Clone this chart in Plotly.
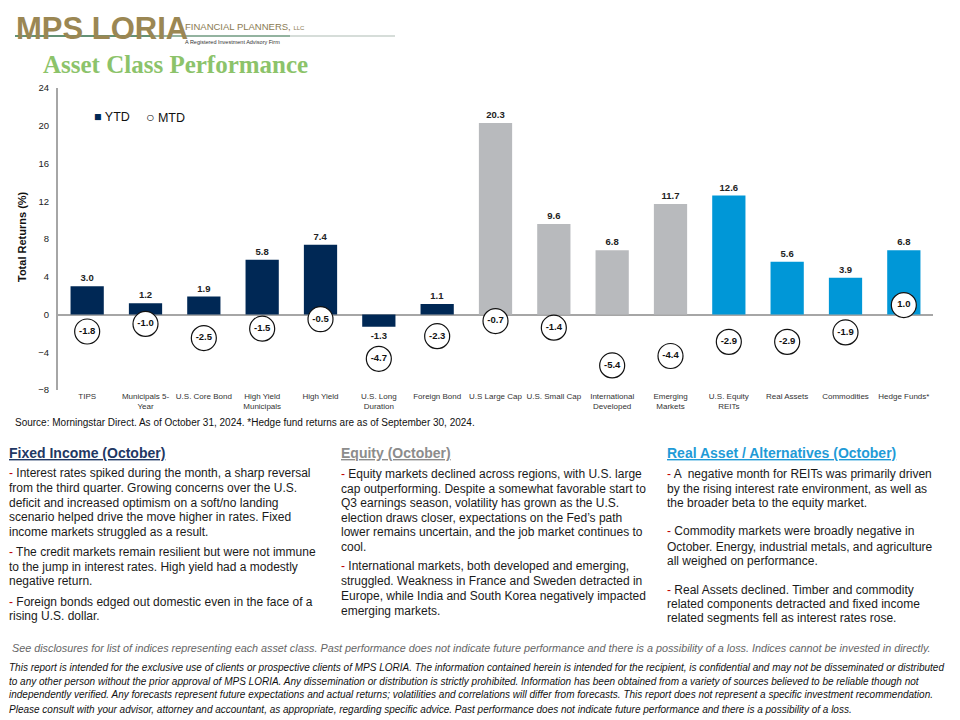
import plotly.graph_objects as go

# ---------------- data ----------------
categories = ["TIPS", "Municipals 5-<br>Year", "U.S. Core Bond", "High Yield<br>Municipals", "High Yield",
              "U.S. Long<br>Duration", "Foreign Bond", "U.S Large Cap", "U.S. Small Cap",
              "International<br>Developed", "Emerging<br>Markets", "U.S. Equity<br>REITs",
              "Real Assets", "Commodities", "Hedge Funds*"]
groups = ["Fixed Income"] * 7 + ["Equity"] * 4 + ["Real Assets / Alternatives"] * 4
ytd = [3.0, 1.2, 1.9, 5.8, 7.4, -1.3, 1.1, 20.3, 9.6, 6.8, 11.7, 12.6, 5.6, 3.9, 6.8]
mtd = [-1.8, -1.0, -2.5, -1.5, -0.5, -4.7, -2.3, -0.7, -1.4, -5.4, -4.4, -2.9, -2.9, -1.9, 1.0]
y_ticks = [-8, -4, 0, 4, 8, 12, 16, 20, 24]

# ---------------- style ----------------
group_colors = {"Fixed Income": "#002855", "Equity": "#b8babd", "Real Assets / Alternatives": "#0097d7"}
bar_colors = [group_colors[g] for g in groups]

OFF = 8  # page body margin
W, H = 960 - OFF, 720 - OFF
L, T = 58 - OFF, 88 - OFF
R = W - (933 - OFF)
B = H - (390 - OFF)
PW, PH = W - L - R, H - T - B


def X(px):
    return (px - OFF - L) / PW


def Y(py):
    return (H - B - (py - OFF)) / PH


fig = go.Figure()
fig.add_trace(go.Bar(
    x=categories, y=ytd, marker=dict(color=bar_colors, line=dict(width=0)),
    texttemplate="<b>%{y:.1f}</b>", textposition="outside", cliponaxis=False,
    textfont=dict(family="Arial", size=9.5, color="#222222"),
    showlegend=False, name="YTD"))
fig.add_trace(go.Scatter(
    x=categories, y=mtd, mode="markers+text", text=[f"<b>{v:.1f}</b>" for v in mtd],
    textposition="middle center", cliponaxis=False,
    textfont=dict(family="Arial", size=9.5, color="#111111"),
    marker=dict(symbol="circle", size=25, color="white", line=dict(color="#111111", width=1.2)),
    showlegend=False, name="MTD"))

ann = []


def add(xp, yp, text, font, xanchor="left", yanchor="middle", **kw):
    ann.append(dict(x=X(xp), y=Y(yp), xref="paper", yref="paper", text=text, showarrow=False,
                    xanchor=xanchor, yanchor=yanchor, font=font, **kw))


# logo
add(14, 28, "<b>MPS LORIA</b>", dict(family="Arial", size=31, color="#9b8753"))
add(183, 27, "FINANCIAL PLANNERS, <span style='font-size:6px'>LLC</span>",
    dict(family="Arial", size=9.5, color="#8a7a52"))
add(183, 42, "A Registered Investment Advisory Firm", dict(family="Arial", size=5.5, color="#333333"))
add(41, 65, "<b>Asset Class Performance</b>", dict(family="Liberation Serif, Times New Roman, serif", size=25, color="#8cc36a"))
# legend
add(92, 117, "<span style='color:#002855'>\u25A0</span> YTD", dict(family="Arial", size=12.5, color="#111111"))
add(144, 117, "<span style='font-size:14px'>\u25CB</span> MTD", dict(family="Arial", size=12.5, color="#111111"))
# y title
add(22, 237, "<b>Total Returns (%)</b>", dict(family="Arial", size=11, color="#111111"), xanchor="center", textangle=-90)
# source
add(13, 422, "Source: Morningstar Direct. As of October 31, 2024. *Hedge fund returns are as of September 30, 2024.",
    dict(family="Arial", size=10, color="#111111"))

dash = "<span style='color:#c00000'>-</span>"
body_font = dict(family="Arial", size=12, color="#1a1a1a")


def para(xp, ys, lines):
    for yy, ln in zip(ys, lines):
        add(xp, yy, ln, body_font)


# column headers
add(7, 453, "<b><u>Fixed Income (October)</u></b>", dict(family="Arial", size=14, color="#1f3864"))
add(339, 453, "<b><u>Equity (October)</u></b>", dict(family="Arial", size=14, color="#8c8c8c"))
add(665, 453, "<b><u>Real Asset / Alternatives (October)</u></b>", dict(family="Arial", size=14, color="#1f9bd7"))

para(7, [473, 488, 503, 517, 532, 552, 567, 581, 602, 616],
     [dash + " Interest rates spiked during the month, a sharp reversal",
      "from the third quarter. Growing concerns over the U.S.",
      "deficit and increased optimism on a soft/no landing",
      "scenario helped drive the move higher in rates. Fixed",
      "income markets struggled as a result.",
      dash + " The credit markets remain resilient but were not immune",
      "to the jump in interest rates. High yield had a modestly",
      "negative return.",
      dash + " Foreign bonds edged out domestic even in the face of a",
      "rising U.S. dollar."])

para(339, [474, 489, 503, 518, 532, 547, 566, 581, 596, 611],
     [dash + " Equity markets declined across regions, with U.S. large",
      "cap outperforming. Despite a somewhat favorable start to",
      "Q3 earnings season, volatility has grown as the U.S.",
      "election draws closer, expectations on the Fed\u2019s path",
      "lower remains uncertain, and the job market continues to",
      "cool.",
      dash + " International markets, both developed and emerging,",
      "struggled. Weakness in France and Sweden detracted in",
      "Europe, while India and South Korea negatively impacted",
      "emerging markets."])

para(665, [474, 489, 503, 531, 547, 561, 590, 604, 618],
     [dash + " A  negative month for REITs was primarily driven",
      "by the rising interest rate environment, as well as",
      "the broader beta to the equity market.",
      dash + " Commodity markets were broadly negative in",
      "October. Energy, industrial metals, and agriculture",
      "all weighed on performance.",
      dash + " Real Assets declined. Timber and commodity",
      "related components detracted and fixed income",
      "related segments fell as interest rates rose."])

# footer
add(10, 648, "<i>See disclosures for list of indices representing each asset class. Past performance does not indicate future performance and there is a possibility of a loss. Indices cannot be invested in directly.</i>",
    dict(family="Arial", size=10.8, color="#666666"))
disc = ["This report is intended for the exclusive use of clients or prospective clients of MPS LORIA. The information contained herein is intended for the recipient, is confidential and may not be disseminated or distributed",
        "to any other person without the prior approval of MPS LORIA. Any dissemination or distribution is strictly prohibited. Information has been obtained from a variety of sources believed to be reliable though not",
        "independently verified. Any forecasts represent future expectations and actual returns; volatilities and correlations will differ from forecasts. This report does not represent a specific investment recommendation.",
        "Please consult with your advisor, attorney and accountant, as appropriate, regarding specific advice. Past performance does not indicate future performance and there is a possibility of a loss."]
for i, line in enumerate(disc):
    add(7, 667 + 14 * i, "<i>" + line + "</i>", dict(family="Arial", size=10, color="#111111"))


def hline(x0, x1, yp, color):
    return dict(type="line", xref="paper", yref="paper", x0=X(x0), x1=X(x1), y0=Y(yp), y1=Y(yp),
                line=dict(color=color, width=1.5))


shapes = [hline(15, 150, 36, "#2f6e4a"), hline(150, 290, 36, "#6f9a80"), hline(290, 395, 36, "#c8d2cc")]

fig.update_layout(
    width=W, height=H, margin=dict(l=L, r=R, t=T, b=B, autoexpand=False),
    paper_bgcolor="white", plot_bgcolor="white",
    bargap=0.43, showlegend=False,
    font=dict(family="Arial", color="#222222"),
    annotations=ann, shapes=shapes,
    xaxis=dict(range=[-0.5, len(categories) - 0.5], showline=False, showgrid=False, ticks="", tickangle=0,
               tickfont=dict(family="Arial", size=8, color="#333333"), fixedrange=True),
    yaxis=dict(range=[-8, 24], tickvals=y_ticks, showgrid=False, showline=True, linecolor="#a6a6a6",
               linewidth=2, zeroline=True, zerolinecolor="#a6a6a6", zerolinewidth=1.5, ticks="",
               ticklabelstandoff=5,
               tickfont=dict(family="Arial", size=9.5, color="#222222"), fixedrange=True),
)

fig.write_html("out.html")
